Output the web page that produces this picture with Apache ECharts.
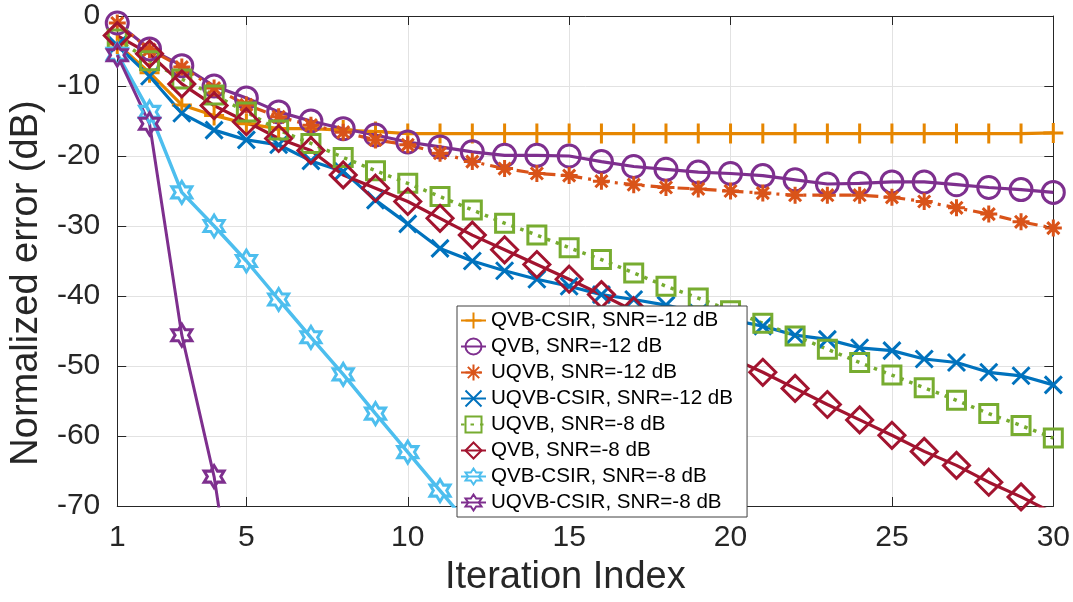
<!DOCTYPE html>
<html>
<head>
<meta charset="utf-8">
<script src="https://cdn.jsdelivr.net/npm/echarts@6/dist/echarts.min.js"></script>
<style>
html,body{margin:0;padding:0;background:#fff;}
#chart{width:1073px;height:602px;}
</style>
</head>
<body>
<div id="chart"></div>
<script>
// ---- data ----
const iterations = [1,2,3,4,5,6,7,8,9,10,11,12,13,14,15,16,17,18,19,20,21,22,23,24,25,26,27,28,29,30];
const xTicks = [1,5,10,15,20,25,30];
const yTicks = [0,-10,-20,-30,-40,-50,-60,-70];

const seriesNames = [
  'QVB-CSIR, SNR=-12 dB',
  'QVB, SNR=-12 dB',
  'UQVB, SNR=-12 dB',
  'UQVB-CSIR, SNR=-12 dB',
  'UQVB, SNR=-8 dB',
  'QVB, SNR=-8 dB',
  'QVB-CSIR, SNR=-8 dB',
  'UQVB-CSIR, SNR=-8 dB'
];

const qvbCsir12 = [-4.0,-8.1,-12.7,-14.2,-15.4,-16.1,-16.1,-16.3,-16.5,-16.8,-16.8,-16.8,-16.8,-16.8,-16.8,-16.8,-16.8,-16.8,-16.8,-16.8,-16.8,-16.8,-16.8,-16.8,-16.8,-16.8,-16.8,-16.8,-16.8,-16.7];
const qvb12 = [-1.0,-4.7,-7.1,-10.0,-11.7,-13.7,-15.0,-16.1,-17.0,-18.0,-18.7,-19.4,-19.9,-19.9,-20.0,-20.8,-21.5,-21.9,-22.3,-22.5,-22.8,-23.4,-24.0,-23.9,-23.7,-23.7,-24.1,-24.5,-24.8,-25.2];
const uqvb12 = [-1.0,-4.8,-7.3,-10.3,-12.7,-14.4,-15.6,-16.6,-17.7,-18.4,-19.6,-20.8,-21.8,-22.5,-22.8,-23.6,-24.1,-24.5,-24.7,-25.0,-25.3,-25.6,-25.6,-25.6,-25.9,-26.5,-27.4,-28.3,-29.4,-30.3];
const uqvbCsir12 = [-4.2,-8.6,-13.9,-16.3,-17.7,-18.4,-20.7,-22.2,-26.3,-29.7,-33.2,-35.0,-36.4,-37.6,-38.6,-39.8,-40.5,-41.3,-42.4,-43.4,-44.3,-45.6,-46.2,-47.4,-47.8,-49.0,-49.5,-50.9,-51.4,-52.7];
const uqvb8 = [-3.3,-6.4,-9.0,-11.3,-13.7,-16.3,-18.2,-20.2,-22.1,-23.9,-25.8,-27.7,-29.6,-31.3,-33.1,-34.8,-36.7,-38.6,-40.3,-42.1,-43.9,-45.7,-47.6,-49.5,-51.3,-53.1,-54.9,-56.8,-58.5,-60.3];
const qvb8 = [-2.8,-5.4,-9.7,-12.8,-15.1,-17.5,-19.2,-22.7,-24.6,-26.5,-28.9,-31.3,-33.4,-35.5,-37.6,-39.8,-42.1,-44.4,-46.6,-48.8,-50.9,-53.2,-55.5,-57.7,-59.9,-62.2,-64.2,-66.6,-68.7,-71.0];
const qvbCsir8 = [-5.4,-13.7,-25.2,-30.0,-35.0,-40.5,-45.9,-51.2,-56.8,-62.3,-67.8,-73.3,null,null,null,null,null,null,null,null,null,null,null,null,null,null,null,null,null,null];
const uqvbCsir8 = [-5.6,-15.4,-45.6,-65.8,-96.0,null,null,null,null,null,null,null,null,null,null,null,null,null,null,null,null,null,null,null,null,null,null,null,null,null];

const seriesValues = [qvbCsir12, qvb12, uqvb12, uqvbCsir12, uqvb8, qvb8, qvbCsir8, uqvbCsir8];
const seriesColors = ['#E68600','#7E2F8E','#D95319','#0072BD','#77AC30','#A2142F','#4DBEEE','#7E2F8E'];

// ---- styling ----
const SYM = {
  plus: 'path://M5,0L5,10M0,5L10,5',
  cross: 'path://M0,0L10,10M10,0L0,10',
  star: 'path://M5,0L5,10M0,5L10,5M1.46,1.46L8.54,8.54M8.54,1.46L1.46,8.54',
  hex: 'path://M5,0L6.443,2.5L9.33,2.5L7.887,5L9.33,7.5L6.443,7.5L5,10L3.557,7.5L0.67,7.5L2.113,5L0.67,2.5L3.557,2.5Z'
};
const styles = [
  {symbol: SYM.plus, size: 20, dash: 'solid', lw: 3.2},
  {symbol: 'circle', size: 22, dash: 'solid', lw: 3.2},
  {symbol: SYM.star, size: 17, dash: [12,6,3,6], lw: 3.2},
  {symbol: SYM.cross, size: 17, dash: 'solid', lw: 3.2},
  {symbol: 'rect', size: 18, dash: [3.5,6], lw: 3.5},
  {symbol: 'diamond', size: 26, dash: 'solid', lw: 3.2},
  {symbol: SYM.hex, size: [20,22], dash: 'solid', lw: 3.5},
  {symbol: SYM.hex, size: [20,22], dash: 'solid', lw: 3}
];

const FONT = "'Liberation Sans', Arial, Helvetica, sans-serif";
const TXT = '#262626';

const series = seriesNames.map((name, i) => ({
  name: name,
  type: 'line',
  data: iterations.map((x, k) => [x, seriesValues[i][k]]),
  symbol: styles[i].symbol,
  symbolSize: styles[i].size,
  showAllSymbol: true,
  connectNulls: false,
  clip: true,
  itemStyle: {color: 'rgba(0,0,0,0)', borderColor: seriesColors[i], borderWidth: 3},
  lineStyle: {color: seriesColors[i], width: styles[i].lw, type: styles[i].dash, cap: 'butt'},
  emphasis: {disabled: true}
}));

const chart = echarts.init(document.getElementById('chart'), null, {renderer: 'canvas'});
chart.setOption({
  animation: false,
  backgroundColor: '#ffffff',
  textStyle: {fontFamily: FONT},
  grid: {left: 117, right: 18, top: 16, bottom: 94, containLabel: false},
  legend: {
    orient: 'vertical',
    left: 457, top: 306,
    z: 20,
    padding: [4, 14, 4, 3],
    itemGap: 5,
    itemWidth: 25, itemHeight: 20,
    backgroundColor: '#ffffff',
    borderColor: '#404040', borderWidth: 1,
    textStyle: {fontFamily: FONT, fontSize: 20.6, lineHeight: 20, color: '#000'},
    data: seriesNames
  },
  xAxis: [{
    type: 'value', min: 1, max: 30,
    name: 'Iteration Index', nameLocation: 'middle', nameGap: 53,
    nameTextStyle: {fontFamily: FONT, fontSize: 38, color: TXT, padding: [0, 40, 0, 0]},
    axisLine: {show: true, onZero: false, lineStyle: {color: TXT, width: 1}},
    axisTick: {show: true, inside: true, length: 9, lineStyle: {color: TXT}, customValues: xTicks},
    axisLabel: {fontFamily: FONT, fontSize: 30, color: TXT, margin: 17, customValues: xTicks},
    splitLine: {show: true, lineStyle: {color: '#e2e2e2', width: 1}}
  }, {
    type: 'value', min: 1, max: 30, position: 'top',
    axisLine: {show: true, onZero: false, lineStyle: {color: TXT, width: 1}},
    axisTick: {show: true, inside: true, length: 9, lineStyle: {color: TXT}, customValues: xTicks},
    axisLabel: {show: false}, splitLine: {show: false}
  }],
  yAxis: [{
    type: 'value', min: -70, max: 0, interval: 10,
    name: 'Normalized error (dB)', nameLocation: 'middle', nameGap: 67, nameRotate: 90,
    nameTextStyle: {fontFamily: FONT, fontSize: 38, color: TXT, padding: [0, 44, 0, 0]},
    axisLine: {show: true, onZero: false, lineStyle: {color: TXT, width: 1}},
    axisTick: {show: true, inside: true, length: 9, lineStyle: {color: TXT}, customValues: yTicks},
    axisLabel: {fontFamily: FONT, fontSize: 30, color: TXT, margin: 17, customValues: yTicks},
    splitLine: {show: true, lineStyle: {color: '#e2e2e2', width: 1}}
  }, {
    type: 'value', min: -70, max: 0, interval: 10, position: 'right',
    axisLine: {show: true, onZero: false, lineStyle: {color: TXT, width: 1}},
    axisTick: {show: true, inside: true, length: 9, lineStyle: {color: TXT}, customValues: yTicks},
    axisLabel: {show: false}, splitLine: {show: false}
  }],
  series: series
});
</script>
</body>
</html>
